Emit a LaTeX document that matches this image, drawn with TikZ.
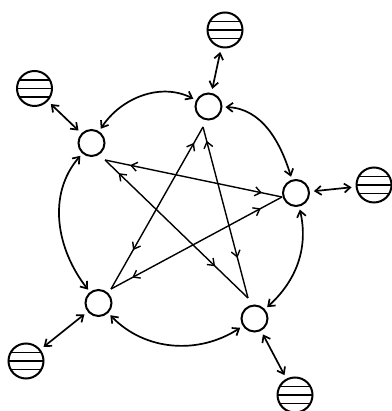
\documentclass[tikz,border=0pt]{standalone}
\usetikzlibrary{arrows.meta,decorations.markings}
\begin{document}
\begin{tikzpicture}[x=1pt,y=1pt,
  >={Straight Barb[length=6pt,width=9pt]},
  small/.style={circle,draw,line width=2pt,minimum size=26pt,inner sep=0pt},
  striped/.style={circle,draw,line width=2pt,minimum size=35pt,inner sep=0pt,
    path picture={
      \foreach \d in {-8.5,0,8.5}{
        \draw[line width=1.4pt] ([yshift=\d pt]path picture bounding box.west) -- ([yshift=\d pt]path picture bounding box.east);}
    }},
  ring/.style={<->,line width=1.7pt,shorten <=3pt,shorten >=3pt},
  spoke/.style={<->,line width=1.7pt,shorten <=4pt,shorten >=4pt},
  starline/.style 2 args={line width=1.4pt,
    postaction={decorate,decoration={markings,
      mark=at position #1 with {\arrow{<}},
      mark=at position #2 with {\arrow{>}}}}}
]
\useasboundingbox (0,0) rectangle (391,411);

% small circles
\node[small] (T)  at (208.5,304.5) {};
\node[small] (L)  at (91.5,268) {};
\node[small] (R)  at (296,218) {};
\node[small] (BL) at (98.5,108) {};
\node[small] (BR) at (254.5,92.5) {};

% striped circles
\node[striped] (ST)  at (225,381) {};
\node[striped] (SL)  at (34.5,322.5) {};
\node[striped] (SR)  at (374,226) {};
\node[striped] (SBL) at (26,50) {};
\node[striped] (SBR) at (295,16) {};

% spokes
\draw[spoke] (T) -- (ST);
\draw[spoke] (L) -- (SL);
\draw[spoke] (R) -- (SR);
\draw[spoke] (BL) -- (SBL);
\draw[spoke] (BR) -- (SBR);

% outer ring
\draw[ring] (L)  to[out=57,in=153]  (T);
\draw[ring] (T)  to[out=-2,in=107]  (R);
\draw[ring] (R)  to[out=-77,in=42]  (BR);
\draw[ring] (BR) to[out=-147,in=-46] (BL);
\draw[ring] (BL) to[out=128,in=229] (L);

% star vertices
\coordinate (vT)  at ([shift={(-5.5,-20.5)}]T.center);
\coordinate (vL)  at ([shift={(13.5,-17)}]L.center);
\coordinate (vR)  at ([shift={(-14,-4)}]R.center);
\coordinate (vBL) at ([shift={(12.5,14)}]BL.center);
\coordinate (vBR) at ([shift={(-6.5,20.5)}]BR.center);

% pentagram
\draw[starline={0.185}{0.887}] (vL) -- (vR);
\draw[starline={0.135}{0.77}]  (vL) -- (vBR);
\draw[starline={0.14}{0.76}]   (vT) -- (vBL);
\draw[starline={0.125}{0.765}] (vT) -- (vBR);
\draw[starline={0.165}{0.876}] (vBL) -- (vR);
\end{tikzpicture}
\end{document}
